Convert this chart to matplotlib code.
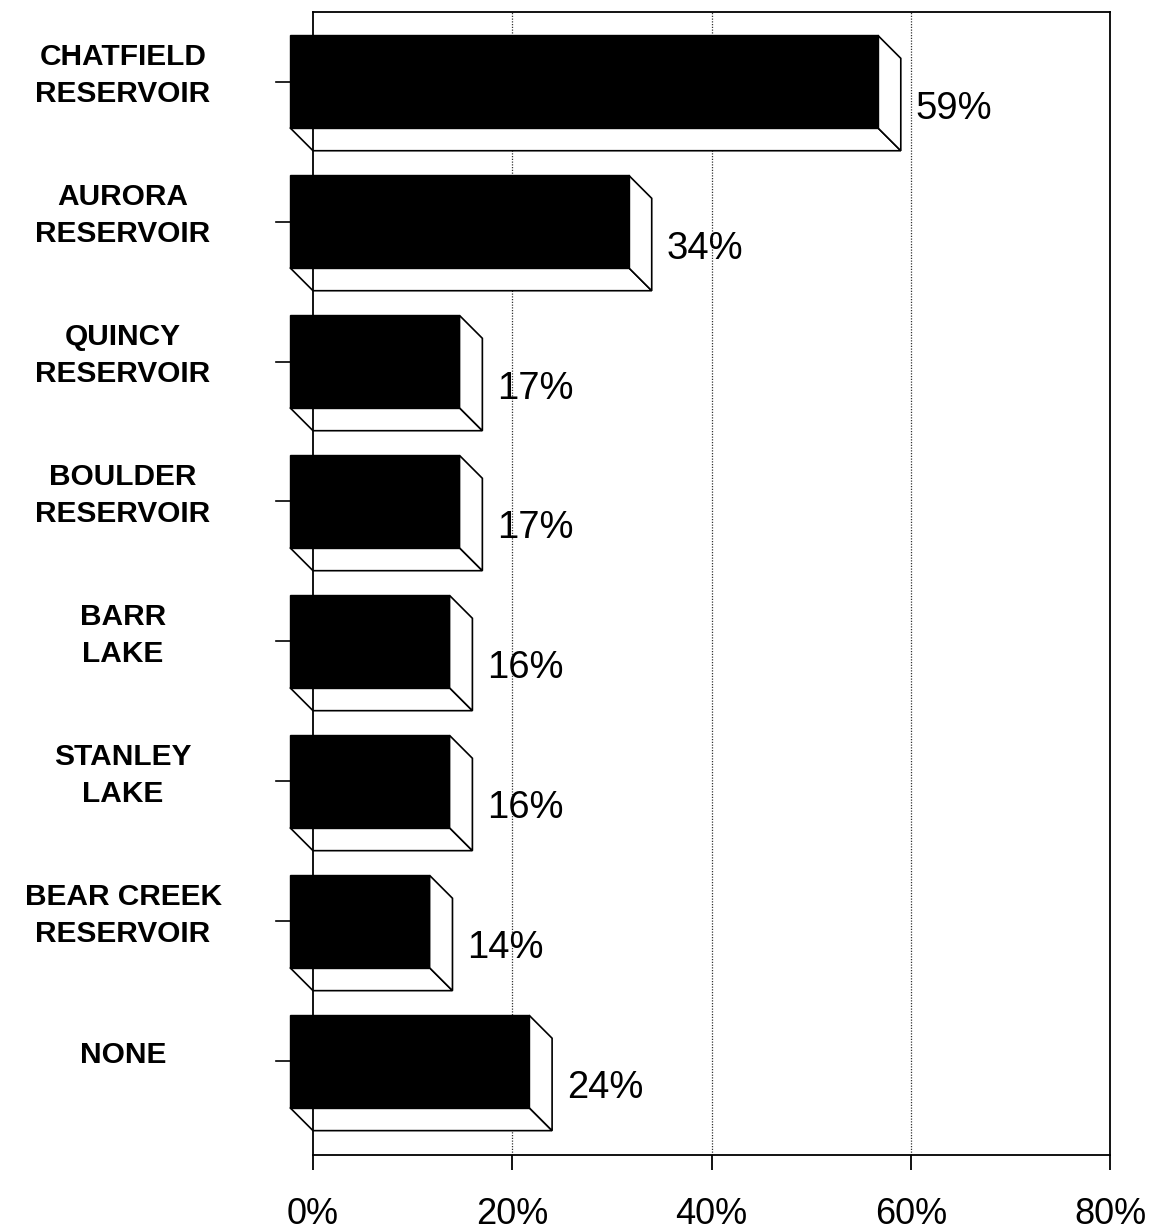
import matplotlib
matplotlib.use("Agg")
import matplotlib.pyplot as plt
from matplotlib.patches import Polygon, Rectangle
from matplotlib.lines import Line2D
from matplotlib.transforms import blended_transform_factory

# Survey data: share of respondents who visited each reservoir / lake
categories = [
    "CHATFIELD\nRESERVOIR",
    "AURORA\nRESERVOIR",
    "QUINCY\nRESERVOIR",
    "BOULDER\nRESERVOIR",
    "BARR\nLAKE",
    "STANLEY\nLAKE",
    "BEAR CREEK\nRESERVOIR",
    "NONE",
]
values = [59, 34, 17, 17, 16, 16, 14, 24]
x_ticks = [0, 20, 40, 60, 80]
x_tick_labels = ["0%", "20%", "40%", "60%", "80%"]

FONT = "Liberation Sans"
W, H, DPI = 1156, 1230, 100
DEPTH_PX = 23          # 3-D extrusion of the bars, in pixels
BAR_H = 0.66

fig = plt.figure(figsize=(W / DPI, H / DPI), dpi=DPI)
ax = fig.add_axes([313 / W, 75 / H, 797 / W, 1143 / H])
ax.set_xlim(0, 80)
ax.set_ylim(7.504, -0.661)

# back plane: frame + dotted gridlines
for s in ax.spines.values():
    s.set_linewidth(1.3)
    s.set_color("black")
ax.set_xticks(x_ticks)
ax.set_xticklabels(x_tick_labels, fontsize=26, family=FONT)
ax.tick_params(axis="x", direction="out", length=11, width=1.3, pad=19)
ax.set_yticks([])
for gx in x_ticks[1:-1]:
    ax.axvline(gx, color="#333333", lw=0.9, ls=(0, (1, 1.2)), zorder=0.5)

# depth offset converted to data units
fig.canvas.draw()
p0 = ax.transData.transform((0, 0))
p1 = ax.transData.transform((1, 1))
px_x = p1[0] - p0[0]
px_y = abs(p1[1] - p0[1])
dxd = DEPTH_PX / px_x
dyd = DEPTH_PX / px_y

label_tr = blended_transform_factory(fig.transFigure, ax.transData)

for i, (cat, v) in enumerate(zip(categories, values)):
    top, bot = i - BAR_H / 2, i + BAR_H / 2
    # bottom face
    bottom_face = Polygon(
        [(-dxd, bot - dyd), (0, bot), (v, bot), (v - dxd, bot - dyd)],
        closed=True, facecolor="white", edgecolor="black", lw=1.2, zorder=2,
    )
    # right side face
    side_face = Polygon(
        [(v - dxd, top - dyd), (v, top), (v, bot), (v - dxd, bot - dyd)],
        closed=True, facecolor="white", edgecolor="black", lw=1.2, zorder=2,
    )
    # front face
    front = Rectangle((-dxd, top - dyd), v, BAR_H, facecolor="black",
                      edgecolor="black", lw=1.0, zorder=3, clip_on=False)
    for p in (bottom_face, side_face, front):
        p.set_clip_on(False)
        ax.add_patch(p)

    # category tick on the front edge
    ax.add_line(Line2D([-dxd - 14 / px_x, -dxd], [i - dyd, i - dyd],
                       color="black", lw=1.2, clip_on=False, zorder=3))

    # category label
    ax.text(123 / W, i - dyd - 6 / px_y, cat, transform=label_tr,
            ha="center", va="center", multialignment="center",
            fontsize=21.5, fontweight="bold", family=FONT, linespacing=1.45)

    # value label
    ax.annotate(f"{v}%", xy=(v, i), xytext=(15, -4), textcoords="offset pixels",
                ha="left", va="center", fontsize=27.5, family=FONT, zorder=4)

fig.savefig("out.png", dpi=DPI, facecolor="white")
